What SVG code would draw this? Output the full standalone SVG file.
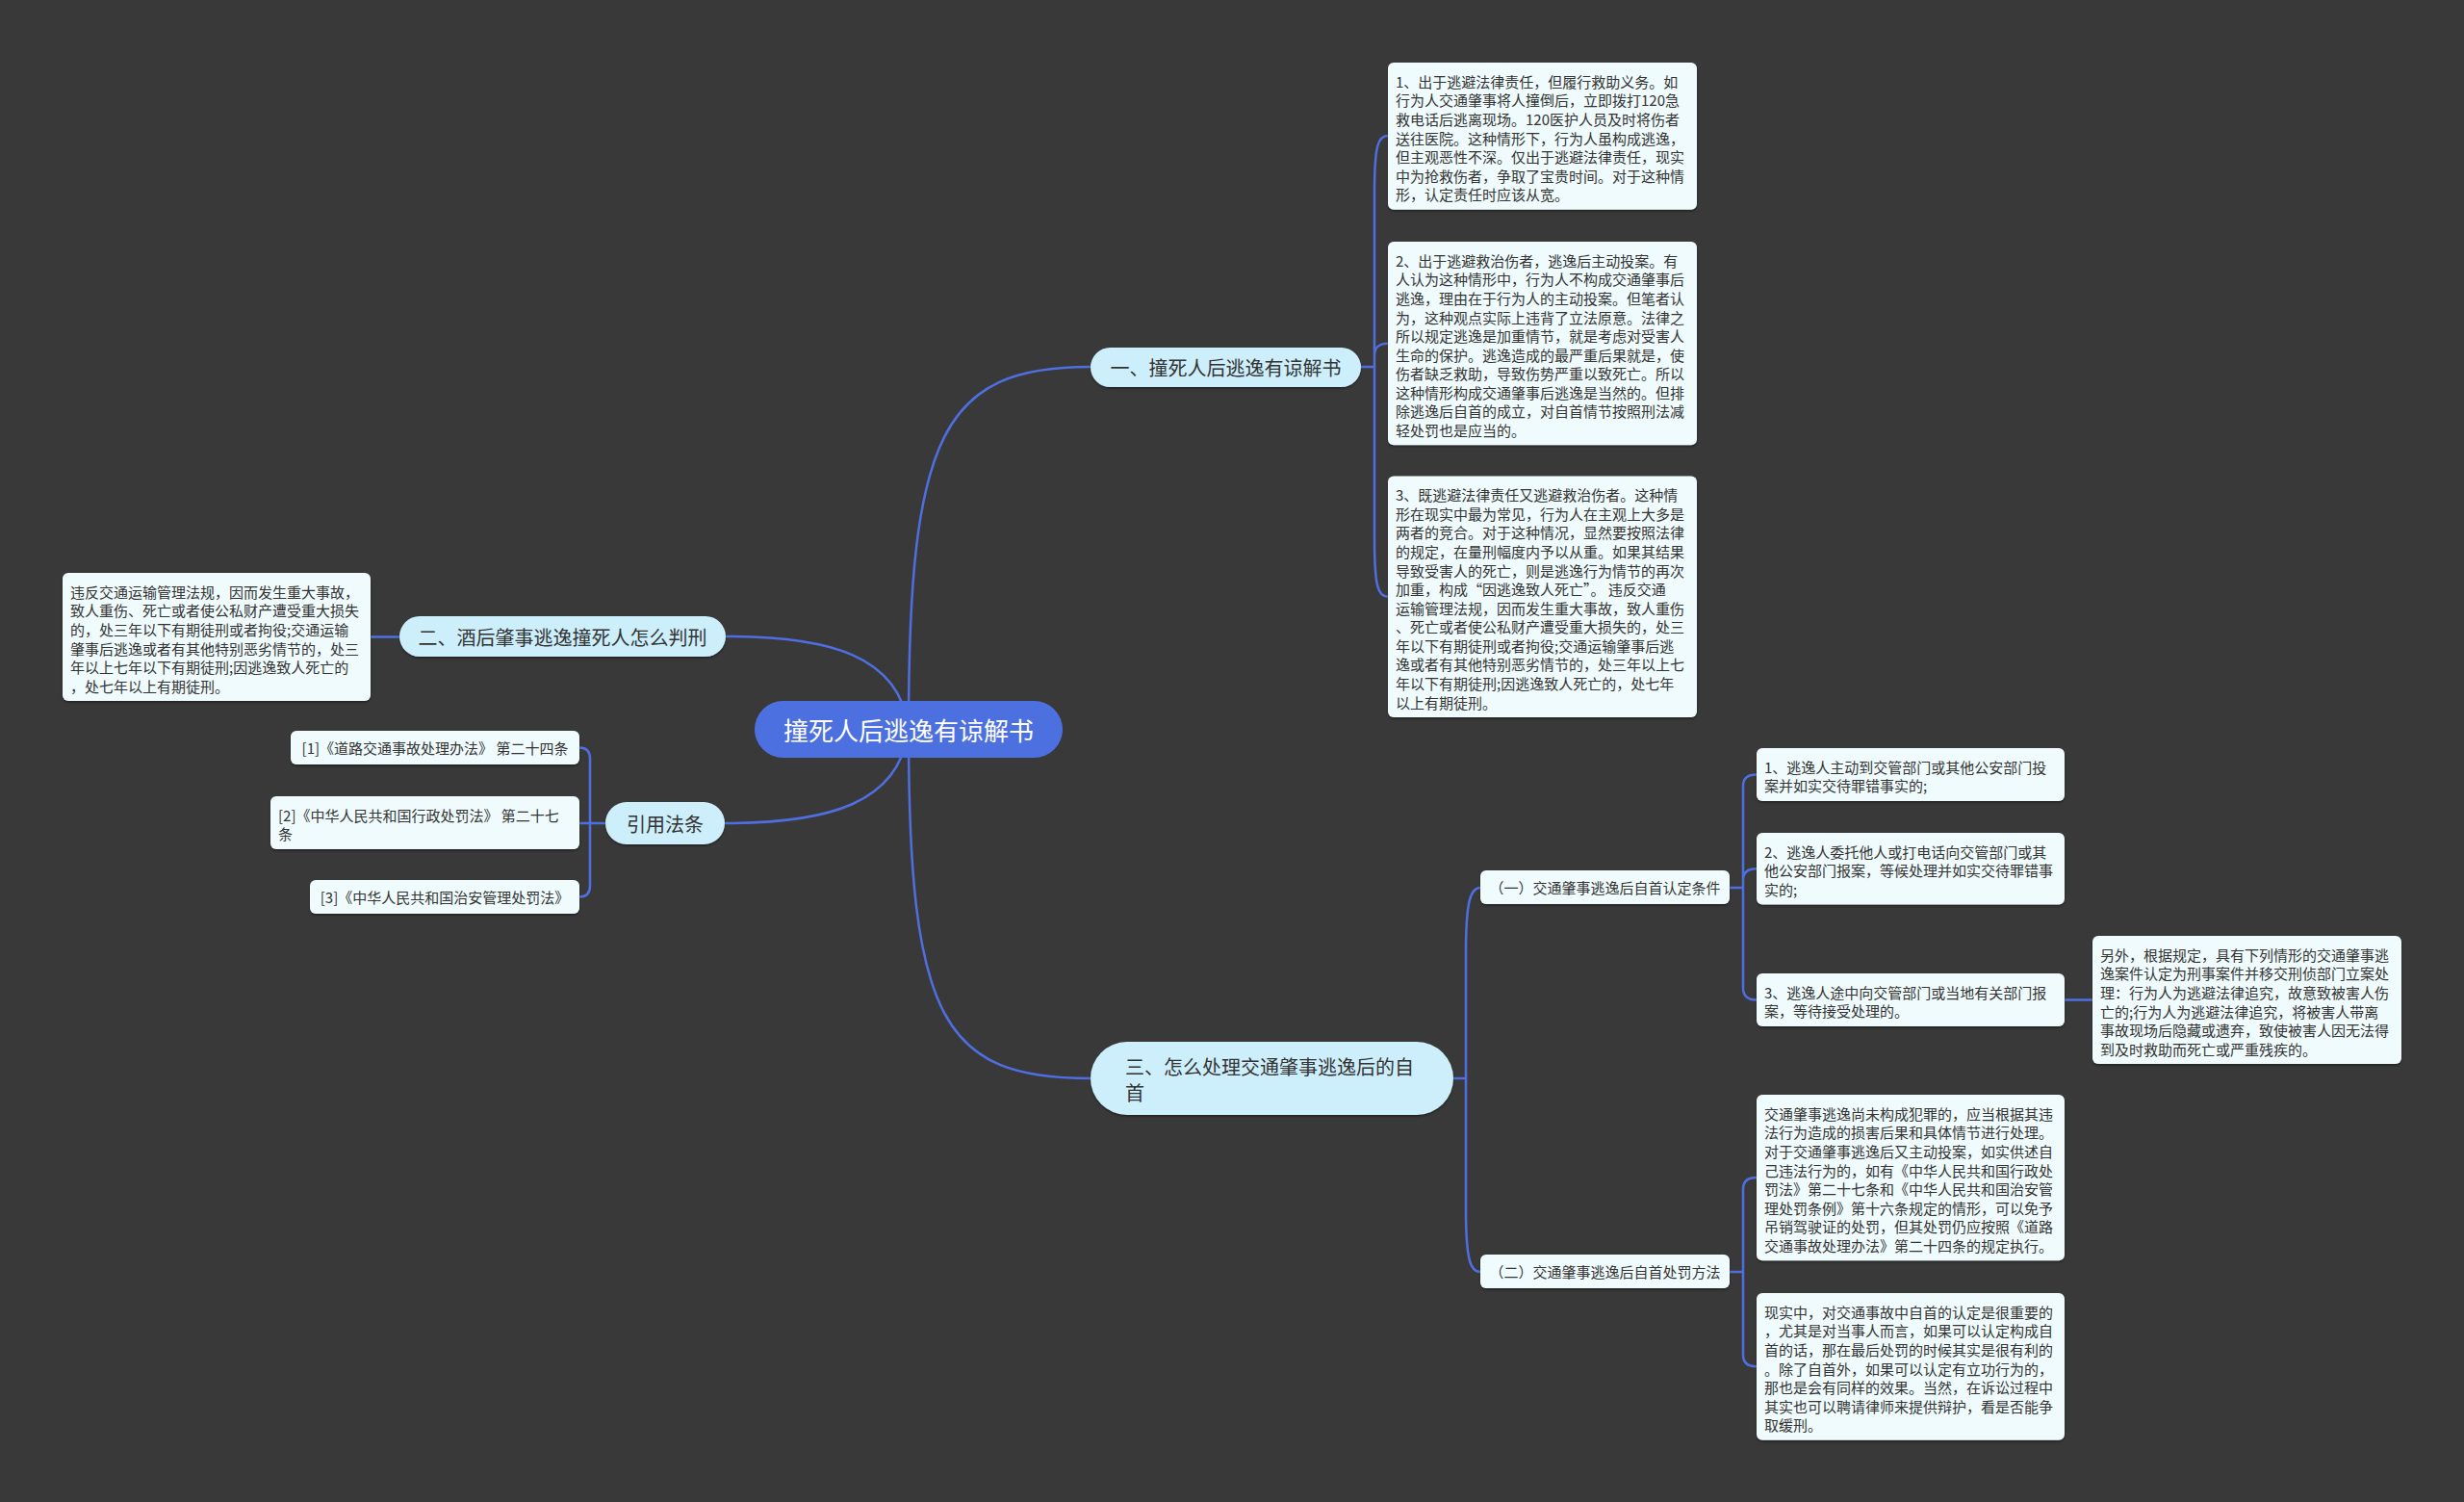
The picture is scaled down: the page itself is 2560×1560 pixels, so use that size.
<svg xmlns="http://www.w3.org/2000/svg" width="2560" height="1560" viewBox="0 0 2560 1560">
<defs>
<style>
.ln{fill:none;stroke:#4f6fe0;stroke-width:2.5;stroke-linecap:round}
.root{fill:#4d70e1}
.br{fill:#cdeffc}
.leaf{fill:#effbfd}
text{font-family:"Noto Sans CJK SC","Noto Sans",sans-serif;fill:#333;dominant-baseline:central}
.lt{font-size:15px}
.bt{font-size:20px}
.rt{font-size:26px;fill:#fff}
.c{text-anchor:middle}
</style>
<filter id="sh" x="-5%" y="-10%" width="110%" height="125%">
<feDropShadow dx="0" dy="1.5" stdDeviation="1" flood-color="#000" flood-opacity="0.45"/>
</filter>
</defs>
<rect width="2560" height="1560" fill="#39393a"/>

<g id="connectors">
<path class="ln" d="M944,757 C944,450 980,381 1133,381"/>
<path class="ln" d="M944,757 C944,1060 980,1120 1133,1120"/>
<path class="ln" d="M754,661 C860,661 935,680 944,757"/>
<path class="ln" d="M753,855 C860,855 935,835 944,757"/>
<path class="ln" d="M1414,381 H1428 M1428,381 V200 C1428,150 1432,141 1442,141 M1428,381 V370 C1428,361 1432,356.7 1442,356.7 M1428,381 V560 C1428,610 1432,619.8 1442,619.8"/>
<path class="ln" d="M415,661.5 H385"/>
<path class="ln" d="M629,855 H602 M613,855 V788 Q613,776.5 602,776.5 M613,855 V920 Q613,931.5 602,931.5"/>
<path class="ln" d="M1510,1120 H1523 M1523,1120 V990 C1523,935 1528,922 1538,922 M1523,1120 V1255 C1523,1310 1528,1321 1538,1321"/>
<path class="ln" d="M1797,922 H1811 M1811,922 V816 Q1811,804.5 1825,804.5 M1811,922 V914 Q1811,902.2 1825,902.2 M1811,922 V1026 Q1811,1038.5 1825,1038.5"/>
<path class="ln" d="M2145,1038.5 H2174"/>
<path class="ln" d="M1797,1321 H1811 M1811,1321 V1235 Q1811,1223 1825,1223 M1811,1321 V1407 Q1811,1419.3 1825,1419.3"/>
</g>

<g id="root">
<rect class="root" x="784" y="728" width="320" height="59" rx="29.5"/>
<text class="rt c" x="944" y="757.5">撞死人后逃逸有谅解书</text>
</g>

<g id="b1">
<rect class="br" x="1133" y="361" width="281" height="41" rx="20.5" filter="url(#sh)"/>
<text class="bt c" x="1273.5" y="381.5">一、撞死人后逃逸有谅解书</text>
</g>

<g id="b2">
<rect class="br" x="415" y="640" width="339" height="42" rx="21" filter="url(#sh)"/>
<text class="bt c" x="584.5" y="661">二、酒后肇事逃逸撞死人怎么判刑</text>
</g>

<g id="b-cite">
<rect class="br" x="629" y="833" width="124" height="44" rx="22" filter="url(#sh)"/>
<text class="bt c" x="691" y="855">引用法条</text>
</g>

<g id="b3">
<rect class="br" x="1133" y="1082" width="377" height="76" rx="38" filter="url(#sh)"/>
<text class="bt" x="1169" y="1107.5">三、怎么处理交通肇事逃逸后的自</text>
<text class="bt" x="1169" y="1134">首</text>
</g>

<g id="a1">
<rect class="leaf" x="1442" y="65" width="321" height="152.7" rx="6" filter="url(#sh)"/>
<text class="lt"><tspan x="1450" y="83.8">1、出于逃避法律责任，但履行救助义务。如</tspan><tspan x="1450" y="103.4">行为人交通肇事将人撞倒后，立即拨打120急</tspan><tspan x="1450" y="122.9">救电话后逃离现场。120医护人员及时将伤者</tspan><tspan x="1450" y="142.5">送往医院。这种情形下，行为人虽构成逃逸，</tspan><tspan x="1450" y="162">但主观恶性不深。仅出于逃避法律责任，现实</tspan><tspan x="1450" y="181.6">中为抢救伤者，争取了宝贵时间。对于这种情</tspan><tspan x="1450" y="201.2">形，认定责任时应该从宽。</tspan></text>
</g>

<g id="a2">
<rect class="leaf" x="1442" y="251" width="321" height="211.3" rx="6" filter="url(#sh)"/>
<text class="lt"><tspan x="1450" y="269.8">2、出于逃避救治伤者，逃逸后主动投案。有</tspan><tspan x="1450" y="289.4">人认为这种情形中，行为人不构成交通肇事后</tspan><tspan x="1450" y="308.9">逃逸，理由在于行为人的主动投案。但笔者认</tspan><tspan x="1450" y="328.5">为，这种观点实际上违背了立法原意。法律之</tspan><tspan x="1450" y="348">所以规定逃逸是加重情节，就是考虑对受害人</tspan><tspan x="1450" y="367.6">生命的保护。逃逸造成的最严重后果就是，使</tspan><tspan x="1450" y="387.2">伤者缺乏救助，导致伤势严重以致死亡。所以</tspan><tspan x="1450" y="406.7">这种情形构成交通肇事后逃逸是当然的。但排</tspan><tspan x="1450" y="426.3">除逃逸后自首的成立，对自首情节按照刑法减</tspan><tspan x="1450" y="445.8">轻处罚也是应当的。</tspan></text>
</g>

<g id="a3">
<rect class="leaf" x="1442" y="494.5" width="321" height="250.5" rx="6" filter="url(#sh)"/>
<text class="lt"><tspan x="1450" y="513.3">3、既逃避法律责任又逃避救治伤者。这种情</tspan><tspan x="1450" y="532.9">形在现实中最为常见，行为人在主观上大多是</tspan><tspan x="1450" y="552.4">两者的竞合。对于这种情况，显然要按照法律</tspan><tspan x="1450" y="572">的规定，在量刑幅度内予以从重。如果其结果</tspan><tspan x="1450" y="591.5">导致受害人的死亡，则是逃逸行为情节的再次</tspan><tspan x="1450" y="611.1">加重，构成“因逃逸致人死亡”。 违反交通</tspan><tspan x="1450" y="630.7">运输管理法规，因而发生重大事故，致人重伤</tspan><tspan x="1450" y="650.2">、死亡或者使公私财产遭受重大损失的，处三</tspan><tspan x="1450" y="669.8">年以下有期徒刑或者拘役;交通运输肇事后逃</tspan><tspan x="1450" y="689.3">逸或者有其他特别恶劣情节的，处三年以上七</tspan><tspan x="1450" y="708.9">年以下有期徒刑;因逃逸致人死亡的，处七年</tspan><tspan x="1450" y="728.5">以上有期徒刑。</tspan></text>
</g>

<g id="l1">
<rect class="leaf" x="65" y="595" width="320" height="133.1" rx="6" filter="url(#sh)"/>
<text class="lt"><tspan x="73" y="613.8">违反交通运输管理法规，因而发生重大事故，</tspan><tspan x="73" y="633.4">致人重伤、死亡或者使公私财产遭受重大损失</tspan><tspan x="73" y="652.9">的，处三年以下有期徒刑或者拘役;交通运输</tspan><tspan x="73" y="672.5">肇事后逃逸或者有其他特别恶劣情节的，处三</tspan><tspan x="73" y="692">年以上七年以下有期徒刑;因逃逸致人死亡的</tspan><tspan x="73" y="711.6">，处七年以上有期徒刑。</tspan></text>
</g>

<g id="cite1">
<rect class="leaf" x="302" y="759" width="300" height="35" rx="6" filter="url(#sh)"/>
<text class="lt c" x="452" y="776.5">[1]《道路交通事故处理办法》 第二十四条</text>
</g>
<g id="cite2">
<rect class="leaf" x="281" y="827" width="321" height="55" rx="6" filter="url(#sh)"/>
<text class="lt"><tspan x="289" y="845.8">[2]《中华人民共和国行政处罚法》 第二十七</tspan><tspan x="289" y="865.4">条</tspan></text>
</g>
<g id="cite3">
<rect class="leaf" x="322" y="914" width="280" height="35" rx="6" filter="url(#sh)"/>
<text class="lt c" x="462" y="931.5">[3]《中华人民共和国治安管理处罚法》</text>
</g>

<g id="s1">
<rect class="leaf" x="1538" y="904" width="259" height="35" rx="6" filter="url(#sh)"/>
<text class="lt c" x="1667.5" y="921.5">（一）交通肇事逃逸后自首认定条件</text>
</g>
<g id="s2">
<rect class="leaf" x="1538" y="1303" width="259" height="35" rx="6" filter="url(#sh)"/>
<text class="lt c" x="1667.5" y="1320.5">（二）交通肇事逃逸后自首处罚方法</text>
</g>

<g id="c1">
<rect class="leaf" x="1825" y="777" width="320" height="55" rx="6" filter="url(#sh)"/>
<text class="lt"><tspan x="1833" y="795.8">1、逃逸人主动到交管部门或其他公安部门投</tspan><tspan x="1833" y="815.4">案并如实交待罪错事实的;</tspan></text>
</g>
<g id="c2">
<rect class="leaf" x="1825" y="865" width="320" height="74.4" rx="6" filter="url(#sh)"/>
<text class="lt"><tspan x="1833" y="883.8">2、逃逸人委托他人或打电话向交管部门或其</tspan><tspan x="1833" y="903.4">他公安部门报案，等候处理并如实交待罪错事</tspan><tspan x="1833" y="922.9">实的;</tspan></text>
</g>
<g id="c3">
<rect class="leaf" x="1825" y="1011" width="320" height="55" rx="6" filter="url(#sh)"/>
<text class="lt"><tspan x="1833" y="1029.8">3、逃逸人途中向交管部门或当地有关部门报</tspan><tspan x="1833" y="1049.4">案，等待接受处理的。</tspan></text>
</g>
<g id="d1">
<rect class="leaf" x="2174" y="972" width="321" height="133.1" rx="6" filter="url(#sh)"/>
<text class="lt"><tspan x="2182" y="990.8">另外，根据规定，具有下列情形的交通肇事逃</tspan><tspan x="2182" y="1010.4">逸案件认定为刑事案件并移交刑侦部门立案处</tspan><tspan x="2182" y="1029.9">理：行为人为逃避法律追究，故意致被害人伤</tspan><tspan x="2182" y="1049.5">亡的;行为人为逃避法律追究，将被害人带离</tspan><tspan x="2182" y="1069">事故现场后隐藏或遗弃，致使被害人因无法得</tspan><tspan x="2182" y="1088.6">到及时救助而死亡或严重残疾的。</tspan></text>
</g>
<g id="e1">
<rect class="leaf" x="1825" y="1137" width="320" height="172.2" rx="6" filter="url(#sh)"/>
<text class="lt"><tspan x="1833" y="1155.8">交通肇事逃逸尚未构成犯罪的，应当根据其违</tspan><tspan x="1833" y="1175.4">法行为造成的损害后果和具体情节进行处理。</tspan><tspan x="1833" y="1194.9">对于交通肇事逃逸后又主动投案，如实供述自</tspan><tspan x="1833" y="1214.5">己违法行为的，如有《中华人民共和国行政处</tspan><tspan x="1833" y="1234">罚法》第二十七条和《中华人民共和国治安管</tspan><tspan x="1833" y="1253.6">理处罚条例》第十六条规定的情形，可以免予</tspan><tspan x="1833" y="1273.2">吊销驾驶证的处罚，但其处罚仍应按照《道路</tspan><tspan x="1833" y="1292.7">交通事故处理办法》第二十四条的规定执行。</tspan></text>
</g>
<g id="e2">
<rect class="leaf" x="1825" y="1343" width="320" height="152.7" rx="6" filter="url(#sh)"/>
<text class="lt"><tspan x="1833" y="1361.8">现实中，对交通事故中自首的认定是很重要的</tspan><tspan x="1833" y="1381.4">，尤其是对当事人而言，如果可以认定构成自</tspan><tspan x="1833" y="1400.9">首的话，那在最后处罚的时候其实是很有利的</tspan><tspan x="1833" y="1420.5">。除了自首外，如果可以认定有立功行为的，</tspan><tspan x="1833" y="1440">那也是会有同样的效果。当然，在诉讼过程中</tspan><tspan x="1833" y="1459.6">其实也可以聘请律师来提供辩护，看是否能争</tspan><tspan x="1833" y="1479.2">取缓刑。</tspan></text>
</g>
</svg>
